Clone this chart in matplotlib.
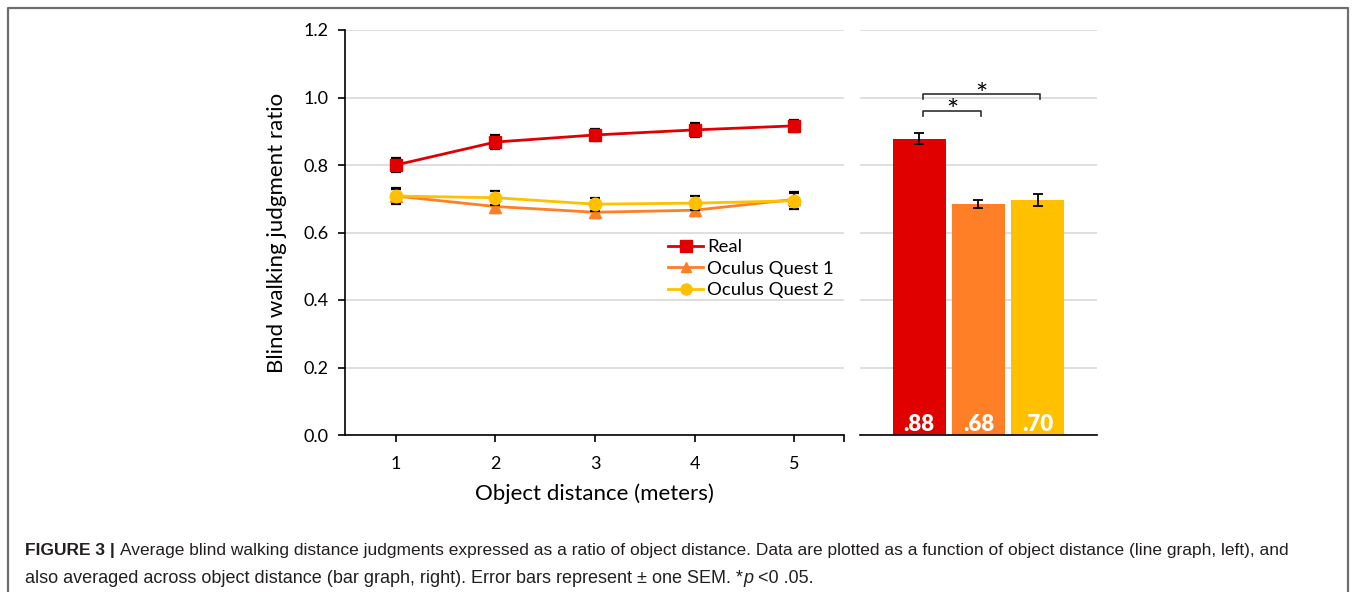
import matplotlib
matplotlib.use('Agg')
import matplotlib.pyplot as plt
from matplotlib.lines import Line2D

plt.rcParams['font.family'] = ['Lato', 'DejaVu Sans']

# line graph data (ratio by object distance)
distances = [1, 2, 3, 4, 5]
real = [0.800, 0.868, 0.889, 0.904, 0.916]
real_err = [0.022, 0.020, 0.018, 0.020, 0.017]
quest1 = [0.708, 0.677, 0.660, 0.666, 0.698]
quest1_err = [0.020, 0.018, 0.018, 0.018, 0.020]
quest2 = [0.708, 0.703, 0.684, 0.687, 0.694]
quest2_err = [0.025, 0.021, 0.019, 0.020, 0.025]

# bar graph data (averaged across distance)
bar_labels = ['.88', '.68', '.70']
bar_means = [0.878, 0.685, 0.697]
bar_err = [0.017, 0.012, 0.017]

RED = '#E00000'
ORANGE = '#FF7F27'
YELLOW = '#FFC000'
GRID = '#D9D9D9'

fig = plt.figure(figsize=(13.56, 5.92), dpi=100)

# ---- left: line graph ----
ax = fig.add_axes([345 / 1356, 157 / 592, 499 / 1356, 405 / 592])
series = [
    ('Real', real, real_err, RED, 's', 9),
    ('Oculus Quest 1', quest1, quest1_err, ORANGE, '^', 8),
    ('Oculus Quest 2', quest2, quest2_err, YELLOW, 'o', 9),
]
handles = []
for i, (name, vals, err, col, mk, ms) in enumerate(series):
    ax.errorbar(distances, vals, yerr=err, fmt='none', ecolor='black',
                elinewidth=1.4, capsize=3.5, capthick=1.6, zorder=2 + i)
    ax.plot(distances, vals, color=col, lw=2, marker=mk, markersize=ms,
            zorder=3 + i)
    handles.append(Line2D([], [], color=col, lw=2, marker=mk, markersize=ms - 1))

ax.set_xlim(0.49, 5.5)
ax.set_ylim(0, 1.2)
ax.set_yticks([0, 0.2, 0.4, 0.6, 0.8, 1.0, 1.2])
ax.set_yticklabels(['0.0', '0.2', '0.4', '0.6', '0.8', '1.0', '1.2'])
ax.set_xticks(distances + [5.5])
ax.set_xticklabels([str(d) for d in distances] + [''])
ax.grid(axis='y', color=GRID, lw=1.2)
ax.set_axisbelow(True)
for s in ['top', 'right']:
    ax.spines[s].set_visible(False)
for s in ['left', 'bottom']:
    ax.spines[s].set_color('black')
    ax.spines[s].set_linewidth(1.2)
ax.tick_params(axis='both', labelsize=13, color='black', width=1.2, length=5)
ax.tick_params(axis='x', pad=10)
ax.tick_params(axis='y', pad=7)
ax.set_ylabel('Blind walking judgment ratio', fontsize=16, labelpad=12)
ax.set_xlabel('Object distance (meters)', fontsize=16, labelpad=8)

ax.legend(handles, [s[0] for s in series], loc='upper left',
          bbox_to_anchor=(659 / 1356, 1 - 230 / 592), bbox_transform=fig.transFigure,
          frameon=False, fontsize=13.3, handlelength=1.9, handletextpad=0.2,
          labelspacing=0.3, borderpad=0, numpoints=1)

# ---- right: bar graph ----
bx = fig.add_axes([860 / 1356, 157 / 592, 237 / 1356, 405 / 592])
xpos = list(range(len(bar_means)))
bx.bar(xpos, bar_means, width=0.89, color=[RED, ORANGE, YELLOW], zorder=2)
bx.errorbar(xpos, bar_means, yerr=bar_err, fmt='none', ecolor='black',
            elinewidth=1.3, capsize=3.5, capthick=1.3, zorder=3)
for x, lab in zip(xpos, bar_labels):
    bx.text(x, 0.0, lab, ha='center', va='bottom', color='white',
            fontsize=16, fontweight='heavy', zorder=4)
bx.set_xlim(-1, 3)
bx.set_ylim(0, 1.2)
bx.set_yticks([0, 0.2, 0.4, 0.6, 0.8, 1.0, 1.2])
bx.grid(axis='y', color=GRID, lw=1.2)
bx.set_axisbelow(True)
bx.set_xticks([])
bx.tick_params(axis='y', left=False, labelleft=False)
for s in ['top', 'right', 'left']:
    bx.spines[s].set_visible(False)
bx.spines['bottom'].set_color('black')
bx.spines['bottom'].set_linewidth(1.2)

# significance brackets
brackets = [(0.06, 1.05, 0.960, 0.945), (0.06, 2.03, 1.010, 0.995)]
for x0, x1, ytop, yleg in brackets:
    bx.plot([x0, x0, x1, x1], [yleg, ytop, ytop, yleg], color='#303030', lw=1.2,
            zorder=5, clip_on=False)
    bx.text((x0 + x1) / 2, ytop - 0.028, '*', ha='center', va='baseline',
            fontsize=21, zorder=5)

# ---- frame and caption ----
frame = Line2D([8 / 1356, 8 / 1356, 1348 / 1356, 1348 / 1356],
               [0, 1 - 8 / 592, 1 - 8 / 592, 0], transform=fig.transFigure,
               color='#6E6E6E', lw=1.6)
fig.add_artist(frame)

cap_font = ['Liberation Sans', 'DejaVu Sans']
fig.canvas.draw()
renderer = fig.canvas.get_renderer()

def put(x_px, y_px, s, size=12.5, **kw):
    t = fig.text(x_px / 1356, 1 - y_px / 592, s, ha='left', va='baseline',
                 family=cap_font, fontsize=size, color='#231F20', **kw)
    bb = t.get_window_extent(renderer=renderer)
    return bb.x1

x = put(25, 555, 'FIGURE 3 | ', fontweight='bold')
put(x, 555, 'Average blind walking distance judgments expressed as a ratio of object distance. '
    'Data are plotted as a function of object distance (line graph, left), and')
x = put(25, 583, 'also averaged across object distance (bar graph, right). Error bars represent \u00b1 one SEM. *',
        size=13.0)
x = put(x, 583, 'p', size=13.0, style='italic')
put(x, 583, ' <0 .05.', size=13.0)

fig.savefig('out.png', dpi=100)
